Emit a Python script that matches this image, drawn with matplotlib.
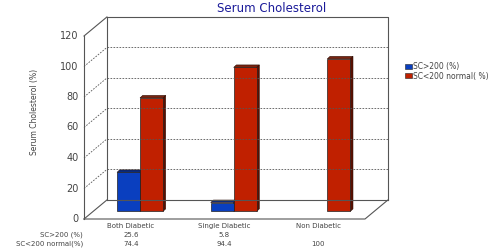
import numpy as np
import matplotlib
matplotlib.use("Agg")
import matplotlib.pyplot as plt
from matplotlib.patches import Polygon

categories = ["Both Diabetic", "Single Diabetic", "Non Diabetic"]
series_names = ["SC>200 (%)", "SC<200 normal( %)"]
sc_high = [25.6, 5.8, 0]
sc_normal = [74.4, 94.4, 100]
high_labels = ["25.6", "5.8", ""]
normal_labels = ["74.4", "94.4", "100"]
yticks = [0, 20, 40, 60, 80, 100, 120]

# depth of the 3d box in data units (x units, value units)
DX, DY = 0.245, 12.5
BAR_DEPTH = 0.4      # where bars sit inside the box (0 front, 1 back)
BAR_THICK = 0.13
BAR_W = 0.245

face = {"blue": ("#0a3fbf", "#0a2a7a", "#061f66"),
        "red": ("#c02000", "#7a2410", "#5a0e00")}

fig = plt.figure(figsize=(5.0, 2.49), dpi=100)
W, H = 500, 249
ax = fig.add_axes([84 / W, (H - 219) / H, (365 - 84) / W, (219 - 36) / H])
ax.set_xlim(0, 3)
ax.set_ylim(0, 120)
ax.axis("off")

gray = "#555555"
# back wall + side wall
ax.plot([DX, DX, 3 + DX, 3 + DX], [DY, 120 + DY, 120 + DY, DY], color=gray, lw=0.8, clip_on=False)
ax.plot([DX, 3 + DX], [DY, DY], color=gray, lw=0.8, clip_on=False)
ax.plot([0, 0], [0, 120], color=gray, lw=0.8, clip_on=False)
ax.plot([0, 3, 3 + DX], [0, 0, DY], color=gray, lw=0.8, clip_on=False)
ax.plot([0, DX], [0, DY], color=gray, lw=0.8, clip_on=False)
ax.plot([0, DX], [120, 120 + DY], color=gray, lw=0.8, clip_on=False)
for t in yticks[1:-1]:
    ax.plot([DX, 3 + DX], [t + DY, t + DY], color="#555555", lw=0.6, ls=(0, (2, 1.6)), clip_on=False)
    ax.plot([0, DX], [t, t + DY], color="#555555", lw=0.6, ls=(0, (2, 1.6)), clip_on=False)
for t in yticks:
    ax.text(-0.06, t, str(t), ha="right", va="center", fontsize=7, color="#444444")


def bar3d(x0, v, colors):
    bx = x0 + BAR_DEPTH * DX
    by = BAR_DEPTH * DY
    tx, ty = BAR_THICK * DX * 0.9, BAR_THICK * DY * 1.0
    front, top, side = colors
    ax.add_patch(Polygon([(bx + BAR_W, by), (bx + BAR_W + tx, by + ty),
                          (bx + BAR_W + tx, by + v + ty), (bx + BAR_W, by + v)],
                         closed=True, fc=side, ec="#2a0a00", lw=0.4, clip_on=False))
    ax.add_patch(Polygon([(bx, by + v), (bx + tx, by + v + ty),
                          (bx + BAR_W + tx, by + v + ty), (bx + BAR_W, by + v)],
                         closed=True, fc=top, ec="#2a0a00", lw=0.4, clip_on=False))
    ax.bar(bx, v, width=BAR_W, bottom=by, align="edge", color=front,
           edgecolor="#222222", lw=0.5, clip_on=False)


fs = 5
for i in range(len(categories)):
    c = i + 0.5
    if sc_high[i] > 0:
        bar3d(c - BAR_W, sc_high[i], face["blue"])
    bar3d(c, sc_normal[i], face["red"])
    ax.text(c, -4.8, categories[i], ha="center", va="center", fontsize=fs, color="#444444")
    ax.text(c, -10.5, high_labels[i], ha="center", va="center", fontsize=fs, color="#444444")
    ax.text(c, -16.2, normal_labels[i], ha="center", va="center", fontsize=fs, color="#444444")

ax.text(-0.01, -10.5, series_names[0], ha="right", va="center", fontsize=fs, color="#444444")
ax.text(-0.01, -16.2, "SC<200 normal(%)", ha="right", va="center", fontsize=fs, color="#444444")

fig.text(272 / W, 1 - 9 / H, "Serum Cholesterol", ha="center", va="center",
         fontsize=8.5, color="#1a1a99")
fig.text(35 / W, 1 - 112 / H, "Serum Cholesterol (%)", ha="center", va="center",
         rotation=90, fontsize=5.5, color="#444444")

# legend
for k, (name, col) in enumerate(zip(series_names, [face["blue"][0], face["red"][0]])):
    yy = 1 - (67 + 9 * k) / H
    fig.patches.append(Polygon([(405 / W, yy - 2 / H), (412 / W, yy - 2 / H),
                                (412 / W, yy + 2.5 / H), (405 / W, yy + 2.5 / H)],
                               closed=True, transform=fig.transFigure, fc=col,
                               ec="#222222", lw=0.4))
    fig.text(413 / W, yy, name, ha="left", va="center", fontsize=5.5, color="#444444")

fig.savefig("out.png", dpi=100)
